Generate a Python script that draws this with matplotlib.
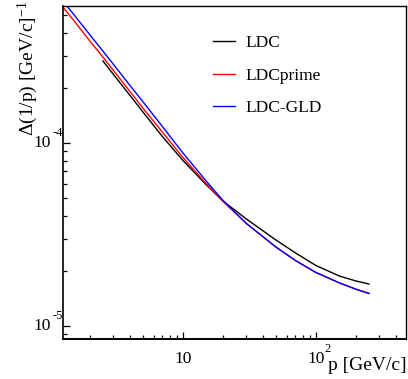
import matplotlib
matplotlib.use("Agg")
import matplotlib.pyplot as plt
from matplotlib.ticker import LogLocator, NullFormatter
import matplotlib.transforms as mtransforms

# momentum resolution vs p
p_ldc = [2.5, 3, 4, 5, 7, 10, 15, 20, 30, 50, 70, 100, 150, 200, 250]
dp_ldc = [2.81e-4, 2.37e-4, 1.818e-4, 1.477e-4, 1.085e-4, 8.02e-5, 5.90e-5, 4.82e-5,
          3.84e-5, 2.95e-5, 2.51e-5, 2.14e-5, 1.875e-5, 1.762e-5, 1.697e-5]

p_prime = [1.25, 1.5, 2, 2.5, 3, 4, 5, 7, 10, 15, 20, 30, 50, 70, 100, 150, 200, 250]
dp_prime = [5.53e-4, 4.70e-4, 3.60e-4, 2.95e-4, 2.49e-4, 1.91e-4, 1.55e-4, 1.148e-4,
            8.32e-5, 5.98e-5, 4.79e-5, 3.63e-5, 2.70e-5, 2.28e-5, 1.96e-5, 1.72e-5,
            1.59e-5, 1.51e-5]

p_gld = [1.25, 1.5, 2, 2.5, 3, 4, 5, 7, 10, 15, 20, 30, 50, 70, 100, 150, 200, 250]
dp_gld = [5.97e-4, 5.07e-4, 3.89e-4, 3.18e-4, 2.69e-4, 2.06e-4, 1.68e-4, 1.231e-4,
          8.81e-5, 6.18e-5, 4.85e-5, 3.63e-5, 2.70e-5, 2.28e-5, 1.96e-5, 1.72e-5,
          1.587e-5, 1.505e-5]

x_major = [10, 100]
x_exp = ["", "2"]
y_major = [1e-4, 1e-5]
y_exp = ["-4", "-5"]

plt.rcParams['font.family'] = ['Liberation Serif', 'DejaVu Serif']
plt.rcParams['mathtext.fontset'] = 'custom'
plt.rcParams['mathtext.rm'] = 'Liberation Serif'
plt.rcParams['mathtext.it'] = 'Liberation Serif:italic'

fig = plt.figure(figsize=(4.08, 3.79), dpi=100)
ax = fig.add_axes([0.1544, 0.1055, 0.8419, 0.8787])

ax.plot(p_ldc, dp_ldc, color='black', lw=1.0, label='LDC')
ax.plot(p_prime, dp_prime, color='red', lw=1.0, label='LDCprime')
ax.plot(p_gld, dp_gld, color='blue', lw=1.0, label='LDC-GLD')

ax.set_xscale('log')
ax.set_yscale('log')
ax.set_xlim(1.252, 479)
ax.set_ylim(8.49e-6, 5.61e-4)

# ROOT style ticks: inside, left and bottom only
for axis in (ax.xaxis, ax.yaxis):
    axis.set_major_locator(LogLocator(base=10))
    axis.set_minor_locator(LogLocator(base=10, subs=range(2, 10)))
    axis.set_major_formatter(NullFormatter())
    axis.set_minor_formatter(NullFormatter())
ax.tick_params(which='major', direction='in', length=5, width=0.9,
               top=False, right=False)
ax.tick_params(which='minor', direction='in', length=2.6, width=0.9,
               top=False, right=False)
for side in ['left', 'bottom', 'top', 'right']:
    ax.spines[side].set_linewidth(1.0)
ax.spines['bottom'].set_linewidth(1.4)
ax.spines['left'].set_linewidth(1.2)

# tick labels drawn by hand so the exponent sits like in ROOT
xt = mtransforms.blended_transform_factory(ax.transData, ax.transAxes)
for val, ex in zip(x_major, x_exp):
    ax.text(val, -0.072, "10", transform=xt, ha='center', va='baseline', fontsize=12.5)
    if ex:
        ax.annotate(ex, xy=(val, -0.072), xycoords=xt, xytext=(6, 8),
                    textcoords='offset points', ha='left', va='baseline', fontsize=9)
yt = mtransforms.blended_transform_factory(ax.transAxes, ax.transData)
for val, ex in zip(y_major, y_exp):
    ax.annotate("10", xy=(0, val), xycoords=yt, xytext=(-9, 0),
                textcoords='offset points', ha='right', va='center', fontsize=12.5)
    ax.annotate(ex, xy=(0, val), xycoords=yt, xytext=(0, 7.5),
                textcoords='offset points', ha='right', va='center', fontsize=9)

ax.set_xlabel('p [GeV/c]', fontsize=14, ha='right')
ax.xaxis.set_label_coords(1.0, -0.055)
ax.set_ylabel(r'$\mathit{\Delta}$(1/p) [GeV/c]$^{-1}$', fontsize=14, ha='right')
ax.yaxis.set_label_coords(-0.068, 1.015)

ax.legend(loc='upper left', bbox_to_anchor=(0.437, 0.913), frameon=False,
          fontsize=12.5, handlelength=1.25, handletextpad=0.6,
          labelspacing=0.95, borderpad=0, borderaxespad=0)

plt.savefig('out.png', dpi=100)
plt.close()
